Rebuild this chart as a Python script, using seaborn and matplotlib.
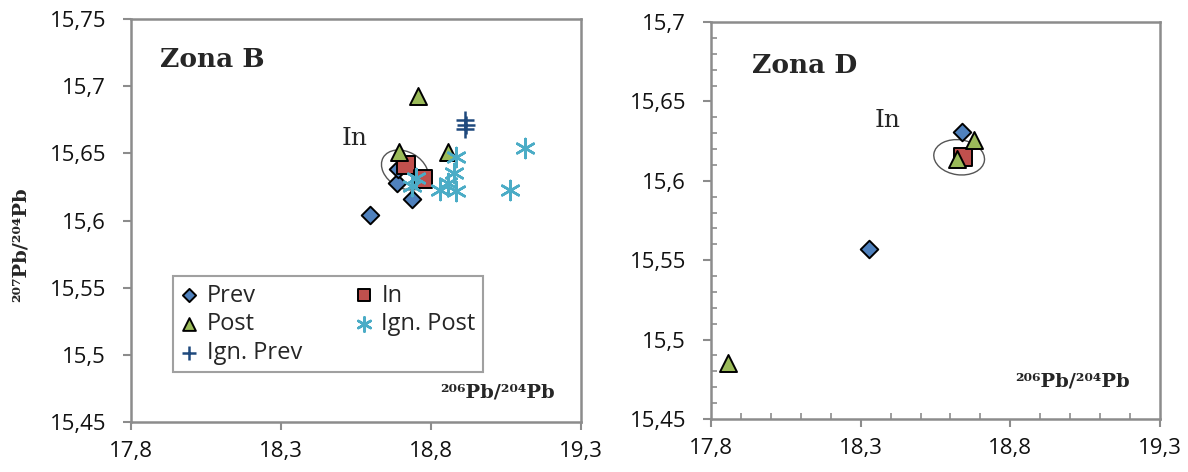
import matplotlib
matplotlib.use("Agg")
import matplotlib.pyplot as plt
import seaborn as sns
import numpy as np
from matplotlib.patches import Ellipse
from matplotlib.transforms import ScaledTranslation
from matplotlib.ticker import FuncFormatter, MultipleLocator

# Zona B data
b_prev_x = [18.597, 18.687, 18.737, 18.690]
b_prev_y = [15.604, 15.628, 15.616, 15.638]
b_in_x = [18.717, 18.773]
b_in_y = [15.641, 15.631]
b_post_x = [18.757, 18.693, 18.857]
b_post_y = [15.693, 15.651, 15.651]
b_ignpost_x = [18.883, 18.877, 18.857, 18.883, 18.830, 18.750, 18.737, 19.063, 19.113]
b_ignpost_y = [15.647, 15.635, 15.628, 15.622, 15.623, 15.632, 15.626, 15.623, 15.654]
b_ignprev_x = [18.912, 18.915, 18.912]
b_ignprev_y = [15.675, 15.671, 15.668]

# Zona D data
d_prev_x = [18.327, 18.640]
d_prev_y = [15.557, 15.631]
d_in_x = [18.643]
d_in_y = [15.615]
d_post_x = [17.857, 18.677, 18.623]
d_post_y = [15.485, 15.626, 15.614]

b_yticks = [15.45, 15.5, 15.55, 15.6, 15.65, 15.7, 15.75]
d_yticks = [15.45, 15.5, 15.55, 15.6, 15.65, 15.7]
xticks = [17.8, 18.3, 18.8, 19.3]

sns.set_style("white")
plt.rcParams['font.family'] = ['Open Sans', 'DejaVu Sans']

C_PREV = '#4F81BD'
C_IN = '#C0504D'
C_POST = '#9BBB59'
C_IGNPOST = '#4BACC6'
C_IGNPREV = '#1F497D'
SPINE = '#8C8C8C'

comma = FuncFormatter(lambda v, p: f"{round(v, 2):g}".replace('.', ','))

fig = plt.figure(figsize=(11.88, 4.72), dpi=100)
axB = fig.add_axes([131 / 1188, 1 - 422 / 472, 450 / 1188, 403 / 472])
axD = fig.add_axes([711 / 1188, 1 - 419 / 472, 449 / 1188, 397 / 472])


def style_axes(ax, yticks, minor=False):
    ax.set_xlim(17.8, 19.3)
    ax.set_ylim(yticks[0], yticks[-1])
    ax.set_xticks(xticks)
    ax.set_yticks(yticks)
    ax.xaxis.set_major_formatter(comma)
    ax.yaxis.set_major_formatter(comma)
    for s in ax.spines.values():
        s.set_color(SPINE)
        s.set_linewidth(1.8)
        s.set_visible(True)
    ax.tick_params(axis='both', which='major', direction='out', length=6, width=1.5,
                   color=SPINE, labelsize=16, labelcolor='#111111')
    ax.tick_params(axis='y', which='major', pad=12, left=True)
    ax.tick_params(axis='x', which='major', pad=8, bottom=True)
    if minor:
        ax.xaxis.set_minor_locator(MultipleLocator(0.1))
        ax.yaxis.set_minor_locator(MultipleLocator(0.01))
        ax.tick_params(axis='both', which='minor', direction='in', length=4, width=1.2,
                       color=SPINE, left=True, bottom=True)
    ax.set_xlabel('')
    ax.set_ylabel('')


def loop(ax, x, y, w, h, ang):
    e = Ellipse((0, 0), w, h, angle=ang, fill=False, edgecolor='#555555', lw=1.0,
                transform=fig.dpi_scale_trans + ScaledTranslation(x, y, ax.transData), zorder=2)
    ax.add_patch(e)


# Zona B
sns.scatterplot(x=b_prev_x, y=b_prev_y, marker='D', s=80, color=C_PREV, edgecolor='black',
                linewidth=1.4, ax=axB, label='Prev', zorder=3)
sns.scatterplot(x=b_in_x, y=b_in_y, marker='s', s=150, color=C_IN, edgecolor='black',
                linewidth=1.4, ax=axB, label='In', zorder=3)
sns.scatterplot(x=b_post_x, y=b_post_y, marker='^', s=150, color=C_POST, edgecolor='black',
                linewidth=1.4, ax=axB, label='Post', zorder=3)
sns.scatterplot(x=b_ignpost_x, y=b_ignpost_y, marker=(6, 2, 0), s=190, color=C_IGNPOST,
                linewidth=1.8, ax=axB, label='Ign. Post', zorder=4)
sns.scatterplot(x=b_ignprev_x, y=b_ignprev_y, marker='+', s=160, color=C_IGNPREV,
                linewidth=1.8, ax=axB, label='Ign. Prev', zorder=4)
loop(axB, 18.713, 15.6376, 0.50, 0.36, -30)
axB.text(18.503, 15.656, 'In', family='DejaVu Serif', fontsize=18, va='baseline')
axB.text(0.064, 0.881, 'Zona B', transform=axB.transAxes, family='DejaVu Serif',
         fontweight='bold', fontsize=19, va='baseline')
axB.text(0.687, 0.062, '²⁰⁶Pb/²⁰⁴Pb', transform=axB.transAxes, family='DejaVu Serif',
         fontweight='bold', fontsize=14, va='baseline')
style_axes(axB, b_yticks)

h, l = axB.get_legend_handles_labels()
order = [0, 2, 4, 1, 3]
leg = axB.legend([h[i] for i in order], [l[i] for i in order], ncol=2, loc='lower left',
                 bbox_to_anchor=(0.093, 0.124), fontsize=17, frameon=True, fancybox=False,
                 markerscale=0.75, handlelength=0.8, handletextpad=0.35, columnspacing=2.2,
                 labelspacing=0.2, borderpad=0.3, borderaxespad=0)
leg.get_frame().set_edgecolor('#888888')
leg.get_frame().set_linewidth(1.5)

# Zona D
sns.scatterplot(x=d_prev_x, y=d_prev_y, marker='D', s=80, color=C_PREV, edgecolor='black',
                linewidth=1.4, ax=axD, zorder=3)
sns.scatterplot(x=d_in_x, y=d_in_y, marker='s', s=150, color=C_IN, edgecolor='black',
                linewidth=1.4, ax=axD, zorder=3)
sns.scatterplot(x=d_post_x, y=d_post_y, marker='^', s=150, color=C_POST, edgecolor='black',
                linewidth=1.4, ax=axD, zorder=3)
loop(axD, 18.629, 15.6148, 0.51, 0.35, -8)
axD.text(18.348, 15.634, 'In', family='DejaVu Serif', fontsize=18, va='baseline')
axD.text(0.091, 0.872, 'Zona D', transform=axD.transAxes, family='DejaVu Serif',
         fontweight='bold', fontsize=19, va='baseline')
axD.text(0.677, 0.081, '²⁰⁶Pb/²⁰⁴Pb', transform=axD.transAxes, family='DejaVu Serif',
         fontweight='bold', fontsize=14, va='baseline')
style_axes(axD, d_yticks, minor=True)

fig.text(21 / 1188, 1 - 245 / 472, '²⁰⁷Pb/²⁰⁴Pb', rotation=90, ha='center', va='center',
         family='DejaVu Serif', fontweight='bold', fontsize=14)

fig.savefig('out.png', dpi=100)
